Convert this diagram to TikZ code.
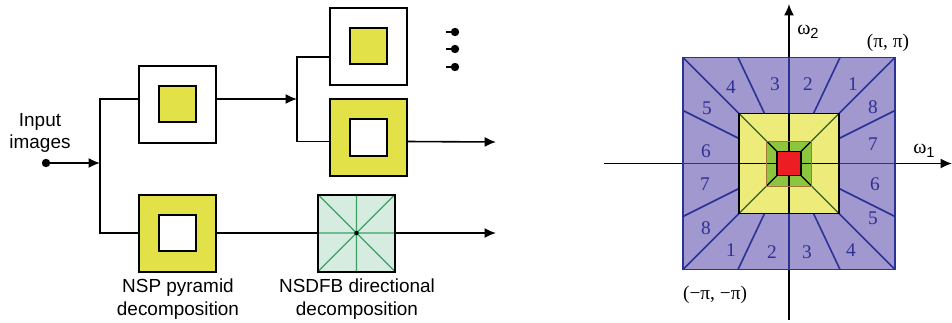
\documentclass[tikz,border=0pt]{standalone}
\usepackage{fontspec}
\setmainfont{Liberation Sans}
\newfontfamily\tnr{Liberation Serif}
\usetikzlibrary{arrows.meta,calc}
\definecolor{yelL}{RGB}{226,226,72}
\definecolor{mint}{RGB}{214,236,224}
\definecolor{mintline}{RGB}{60,160,100}
\definecolor{purp}{RGB}{160,152,206}
\definecolor{bline}{RGB}{42,50,150}
\definecolor{yelR}{RGB}{237,235,122}
\definecolor{grn}{RGB}{140,198,62}
\definecolor{dgrn}{RGB}{50,95,40}
\definecolor{brn}{RGB}{160,120,60}
\definecolor{redR}{RGB}{236,30,36}
\definecolor{numc}{RGB}{46,49,146}
\tikzset{
  conn/.style={line width=1.2pt,black},
  arr/.style={conn,-{Latex[length=8.5pt,width=7.5pt]}},
  outerW/.style={draw=black,fill=white,line width=1.5pt,minimum size=57.75pt,inner sep=0pt,outer sep=0pt},
  outerY/.style={draw=black,fill=yelL,line width=1.5pt,minimum size=57.75pt,inner sep=0pt,outer sep=0pt},
  innerY/.style={draw=black,fill=yelL,line width=1.5pt,minimum size=27.5pt,inner sep=0pt},
  innerW/.style={draw=black,fill=white,line width=1.5pt,minimum size=27.5pt,inner sep=0pt},
  dirbox/.style={draw=black,fill=mint,line width=1.5pt,minimum size=57.75pt,inner sep=0pt,outer sep=0pt},
  lbl/.style={font=\fontsize{14.2}{17}\selectfont,align=center,inner sep=0pt},
  dotn/.style={circle,fill=black,minimum size=6.3pt,inner sep=0pt},
  num/.style={font=\tnr\fontsize{14.5}{14.5}\selectfont,text=numc,inner sep=0pt},
  bl/.style={bline,line width=1.2pt},
  axlbl/.style={inner sep=0pt}
}
\begin{document}
\begin{tikzpicture}[x=0.75pt,y=-0.75pt]
\useasboundingbox (0,0) rectangle (952,322);
% ---------- left block diagram ----------
\node[lbl] (input) at (40,133) {Input\\images};
\node[dotn] (in) at (46,163) {};
\coordinate (J1) at (100,163);
\coordinate (J2) at (297,99);
\node[outerW] (A) at (177.5,104) {};
\node[innerY] (Ai) at (A) {};
\node[outerY] (B) at (177.5,233) {};
\node[innerW] (Bi) at (B) {};
\node[outerW] (C) at (368.5,46) {};
\node[innerY] (Ci) at (C) {};
\node[outerY] (D) at (368.5,137.5) {};
\node[innerW] (Di) at (D) {};
\node[dirbox] (N) at (356.5,233) {};
\draw[mintline,line width=0.9pt] (N.north west)--(N.south east) (N.north east)--(N.south west) (N.north)--(N.south) (N.west)--(N.east);
\node[draw=black,line width=1.5pt,minimum size=57.75pt,inner sep=0pt] at (N) {};
\fill (N.center) circle (2.2);
\coordinate (o1) at (496,142);
\coordinate (o2) at (496,233);

\draw[arr] (in) -- (J1);
\draw[conn] ([yshift=3.75pt]A.west) -| (J1) |- (B.west);
\draw[arr] ([yshift=3.75pt]A.east) -- (J2);
\draw[conn] ([yshift=-8.25pt]C.west) -| (J2) |- ([yshift=-3pt]D.west);
\draw[arr] ([yshift=-3pt]D.east) -- (o1);
\draw[conn] (B.east) -- (N.west);
\draw[arr] (N.east) -- (o2);

\foreach \i/\y in {1/32,2/49,3/67}{
  \node[dotn] (d\i) at (455,\y) {};
  \coordinate (s\i) at (446,\y);
  \draw[line width=1.6pt] (s\i) -- (d\i);
}
\node[lbl] (lab1) at (178,299) {NSP pyramid\\decomposition};
\node[lbl] (lab2) at (357,299) {NSDFB directional\\decomposition};

% ---------- right frequency partition ----------
\coordinate (ax1) at (604,163.5);
\coordinate (ax2) at (952,163.5);
\coordinate (ay1) at (789,320);
\coordinate (ay2) at (789,4);
\draw[arr] (ax1) -- (ax2);
\draw[arr] (ay1) -- (ay2);
\begin{scope}[shift={(789,163.5)}]
  \fill[purp] (-106,-106) rectangle (106,106);
  \fill[yelR] (-50,-50) rectangle (50,50);
  \fill[grn] (-22.5,-22.5) rectangle (22.5,22.5);
  \foreach \s/\t in {1/1,1/-1,-1/1,-1/-1}{
    \draw[bl] ({106*\s},{106*\t}) -- ({50*\s},{50*\t});
    \draw[bl] ({51*\s},{106*\t}) -- ({24.5*\s},{50*\t});
    \draw[bl] ({106*\s},{53*\t}) -- ({50*\s},{25*\t});
    \draw[dgrn,line width=0.9pt] ({50*\s},{50*\t}) -- ({22.5*\s},{22.5*\t});
    \draw[black,line width=0.9pt] ({22.5*\s},{22.5*\t}) -- ({12*\s},{12*\t});
  }
  \draw[bl] (0,-106) -- (0,-50) (0,50) -- (0,106) (-106,0) -- (-50,0) (50,0) -- (106,0);
  \draw[black,line width=1pt] (0,-50) -- (0,50) (-50,0) -- (50,0);
  \draw[brn,line width=0.7pt] (-22.5,-22.5) rectangle (22.5,22.5);
  \draw[black,line width=1.3pt] (-50,-50) rectangle (50,50);
  \draw[black,line width=1.4pt,fill=redR] (-12,-12) rectangle (12,12);
  \draw[bl,line width=1.3pt] (-106,-106) rectangle (106,106);
\end{scope}
% wedge numbers
\node[num] (t4) at (731,87) {4};
\node[num] (t3) at (775,84) {3};
\node[num] (t2) at (808,84) {2};
\node[num] (t1) at (853,84) {1};
\node[num] (r8) at (873,107) {8};
\node[num] (r7) at (873,144) {7};
\node[num] (r6) at (875,184) {6};
\node[num] (r5) at (873,218) {5};
\node[num] (b4) at (851,250) {4};
\node[num] (b3) at (807,252) {3};
\node[num] (b2) at (772,252) {2};
\node[num] (b1) at (731,250) {1};
\node[num] (l8) at (706,228) {8};
\node[num] (l7) at (705,184) {7};
\node[num] (l6) at (706,151) {6};
\node[num] (l5) at (707,108) {5};
% axis labels
\node[axlbl,anchor=west] (w2) at (797,32) {{\tnr\fontsize{15}{15}\selectfont ω}\raisebox{-3pt}{\fontsize{11}{11}\selectfont 2}};
\node[axlbl,anchor=west] (w1) at (913,151) {{\tnr\fontsize{15}{15}\selectfont ω}\raisebox{-3pt}{\fontsize{11}{11}\selectfont 1}};
\node[axlbl] (pp) at (888,43) {\tnr\fontsize{14.5}{14.5}\selectfont (π, π)};
\node[axlbl] (mm) at (715,295) {\tnr\fontsize{14.5}{14.5}\selectfont (−π, −π)};
\end{tikzpicture}
\end{document}
